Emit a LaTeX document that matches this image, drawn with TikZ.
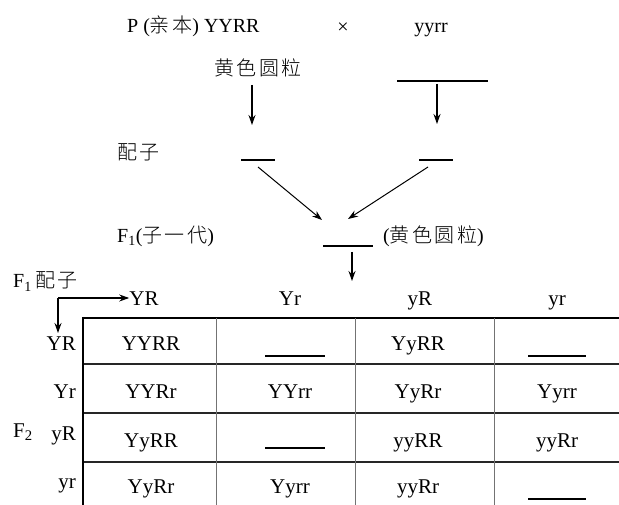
\documentclass[tikz,border=0pt]{standalone}
\usepackage{fontspec}
\setmainfont{Liberation Serif}
\newfontfamily\cjk[LetterSpace=12]{Noto Sans CJK SC Light}
\usetikzlibrary{arrows.meta}
\newcommand{\zh}[1]{{\cjk #1}}
\begin{document}
\begin{tikzpicture}[x=1pt,y=-1pt,
  txt/.style={font=\fontsize{20}{24}\selectfont, inner sep=0pt},
  tt/.style={font=\fontsize{21}{24}\selectfont, inner sep=0pt, anchor=base},
  arr/.style={line width=1.3pt, -{Stealth[length=10pt,width=7pt]}},
  blank/.style={line width=1.6pt},
  thickline/.style={line width=2pt},
  rowline/.style={line width=1.4pt, black!85},
  colline/.style={line width=1pt, black!55}]
\useasboundingbox (0,0) rectangle (619,505);
% ---------- top part ----------
\node[txt,anchor=base west] (P) at (127,33) {P (\zh{亲本}) YYRR};
\node[txt] (x) at (343,28) {×};
\node[txt,anchor=base] (yyrr) at (431,33) {yyrr};
\node[txt] (huang) at (258,68) {\zh{黄色圆粒}};
\coordinate (b1) at (397,81); \coordinate (b2) at (488,81);
\draw[blank] (b1) -- (b2);
\coordinate (a1s) at (252,85); \coordinate (a1e) at (252,125);
\coordinate (a2s) at (437,84); \coordinate (a2e) at (437,124);
\draw[arr] (a1s) -- (a1e);
\draw[arr] (a2s) -- (a2e);
\node[txt,anchor=west] (gam) at (117,152) {\zh{配子}};
\coordinate (g1a) at (241,160); \coordinate (g1b) at (275,160);
\coordinate (g2a) at (419,160); \coordinate (g2b) at (453,160);
\draw[blank] (g1a) -- (g1b);
\draw[blank] (g2a) -- (g2b);
\coordinate (d1s) at (258,167); \coordinate (d1e) at (322,220);
\coordinate (d2s) at (428,167); \coordinate (d2e) at (348,219);
\draw[arr,line width=1pt] (d1s) -- (d1e);
\draw[arr,line width=1pt] (d2s) -- (d2e);
\node[txt,anchor=west] (f1) at (117,236) {F\textsubscript{1}(\zh{子一代})};
\coordinate (f1a) at (323,246); \coordinate (f1b) at (373,246);
\draw[blank] (f1a) -- (f1b);
\node[txt,anchor=west] (f1p) at (383,236) {(\zh{黄色圆粒})};
\coordinate (dns) at (352,252); \coordinate (dne) at (352,281);
\draw[arr] (dns) -- (dne);
% ---------- table ----------
\node[txt,anchor=base west] (f1g) at (13,288) {F\textsubscript{1}\,\zh{配子}};
\node[tt] (hYR) at (144,306) {YR};
\node[tt] (hYr) at (290,306) {Yr};
\node[tt] (hyR) at (420,306) {yR};
\node[tt] (hyr) at (557,306) {yr};
\coordinate (corner) at (58,298);
\coordinate (cdown) at (58,333);
\draw[arr,line width=1.1pt] (corner) -- (hYR.west |- corner);
\draw[arr,line width=1.1pt] (corner) -- (cdown);
\node[tt,anchor=base east] (rYR) at (76,350) {YR};
\node[tt,anchor=base east] (rYr) at (76,398) {Yr};
\node[tt,anchor=base east] (ryR) at (76,440) {yR};
\node[tt,anchor=base east] (ryr) at (76,488) {yr};
\node[tt,anchor=base west] (f2) at (13,437) {F\textsubscript{2}};
% grid
\draw[thickline] (83,318) -- (619,318);
\draw[rowline] (83,364) -- (619,364);
\draw[rowline] (83,413) -- (619,413);
\draw[rowline] (83,462) -- (619,462);
\draw[colline] (216,318) -- (216,505);
\draw[colline] (355,318) -- (355,505);
\draw[colline] (494,318) -- (494,505);
\draw[thickline] (83,317) -- (83,505);
% cells
\node[tt] (c11) at (151,350) {YYRR};
\coordinate (c12a) at (265,356); \coordinate (c12b) at (325,356);
\draw[blank] (c12a) -- (c12b);
\node[tt] (c13) at (418,350) {YyRR};
\coordinate (c14a) at (528,356); \coordinate (c14b) at (586,356);
\draw[blank] (c14a) -- (c14b);
\node[tt] (c21) at (151,398) {YYRr};
\node[tt] (c22) at (290,398) {YYrr};
\node[tt] (c23) at (418,398) {YyRr};
\node[tt] (c24) at (557,398) {Yyrr};
\node[tt] (c31) at (151,447) {YyRR};
\coordinate (c32a) at (265,448); \coordinate (c32b) at (325,448);
\draw[blank] (c32a) -- (c32b);
\node[tt] (c33) at (418,447) {yyRR};
\node[tt] (c34) at (557,447) {yyRr};
\node[tt] (c41) at (151,493) {YyRr};
\node[tt] (c42) at (290,493) {Yyrr};
\node[tt] (c43) at (418,493) {yyRr};
\coordinate (c44a) at (528,499); \coordinate (c44b) at (586,499);
\draw[blank] (c44a) -- (c44b);
\end{tikzpicture}
\end{document}
